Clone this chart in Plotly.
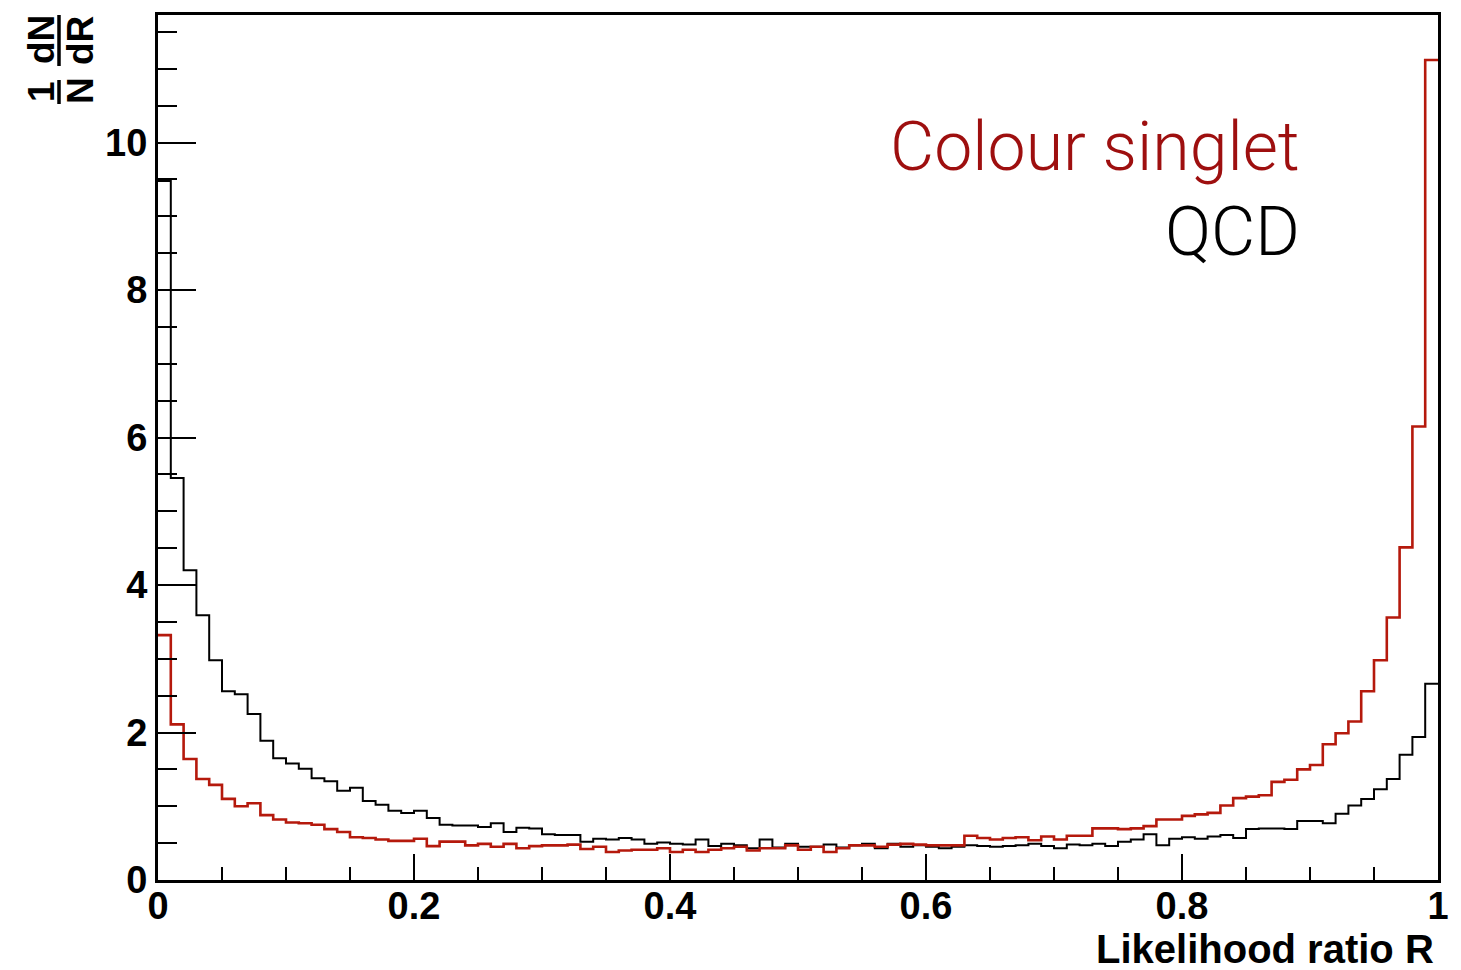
import numpy as np
import plotly.graph_objects as go

# ---------------- data (100 bins on 0..1) ----------------
n_bins = 100
r_min, r_max = 0.0, 1.0

qcd = [9.48, 5.45, 4.20, 3.59, 2.98, 2.56, 2.52, 2.25, 1.89, 1.65,
       1.58, 1.51, 1.38, 1.34, 1.21, 1.25, 1.07, 1.02, 0.94, 0.91,
       0.94, 0.84, 0.75, 0.74, 0.74, 0.72, 0.77, 0.65, 0.71, 0.70,
       0.62, 0.61, 0.61, 0.52, 0.56, 0.55, 0.57, 0.55, 0.49, 0.51,
       0.49, 0.48, 0.55, 0.46, 0.49, 0.47, 0.43, 0.55, 0.44, 0.49,
       0.45, 0.45, 0.48, 0.44, 0.47, 0.49, 0.43, 0.49, 0.45, 0.47,
       0.45, 0.43, 0.45, 0.47, 0.46, 0.45, 0.46, 0.47, 0.49, 0.46,
       0.43, 0.48, 0.47, 0.49, 0.46, 0.52, 0.55, 0.62, 0.47, 0.56,
       0.58, 0.56, 0.59, 0.61, 0.57, 0.69, 0.70, 0.70, 0.69, 0.80,
       0.80, 0.77, 0.90, 1.01, 1.10, 1.23, 1.37, 1.70, 1.94, 2.66]

singlet = [3.32, 2.11, 1.64, 1.37, 1.29, 1.10, 1.00, 1.04, 0.88, 0.82,
           0.78, 0.77, 0.75, 0.69, 0.65, 0.58, 0.57, 0.55, 0.53, 0.53,
           0.56, 0.46, 0.52, 0.52, 0.47, 0.49, 0.45, 0.49, 0.43, 0.46,
           0.47, 0.47, 0.48, 0.42, 0.45, 0.38, 0.40, 0.41, 0.41, 0.43,
           0.38, 0.41, 0.38, 0.41, 0.43, 0.45, 0.40, 0.43, 0.43, 0.47,
           0.41, 0.45, 0.38, 0.43, 0.47, 0.47, 0.45, 0.48, 0.49, 0.48,
           0.47, 0.47, 0.47, 0.60, 0.57, 0.55, 0.57, 0.58, 0.54, 0.59,
           0.55, 0.60, 0.60, 0.70, 0.70, 0.69, 0.70, 0.73, 0.82, 0.82,
           0.87, 0.89, 0.91, 1.01, 1.11, 1.13, 1.15, 1.33, 1.36, 1.50,
           1.56, 1.84, 1.99, 2.15, 2.56, 2.98, 3.56, 4.51, 6.15, 11.12]

x_tick_vals = [0, 0.2, 0.4, 0.6, 0.8, 1]
x_tick_text = ["0", "0.2", "0.4", "0.6", "0.8", "1"]
y_tick_vals = [0, 2, 4, 6, 8, 10]
y_tick_text = ["0", "2", "4", "6", "8", "10"]
y_max = 11.73

edges = np.linspace(r_min, r_max, n_bins + 1)

# ---------------- layout geometry ----------------
W, H = 1461, 970
L, R, T, B = 158, 23, 15, 90
PW, PH = W - L - R, H - T - B


def px_x(px):
    return (px - L) / PW


def px_y(py):
    return (H - B - py) / PH


RED_LINE = "#b5190c"
RED_TEXT = "#9e0f0f"

fig = go.Figure()
fig.add_trace(go.Scatter(
    x=edges, y=list(qcd) + [qcd[-1]], mode="lines", line_shape="hv",
    line=dict(color="black", width=2), showlegend=False, hoverinfo="skip"))
fig.add_trace(go.Scatter(
    x=edges, y=list(singlet) + [singlet[-1]], mode="lines", line_shape="hv",
    line=dict(color=RED_LINE, width=2.6), showlegend=False, hoverinfo="skip"))

tick_font = dict(family="Liberation Sans", size=38, color="black", weight="bold")

fig.update_layout(
    width=W, height=H,
    margin=dict(l=L, r=R, t=T, b=B, pad=0),
    paper_bgcolor="white", plot_bgcolor="white",
    showlegend=False,
    xaxis=dict(
        range=[r_min, r_max], tickvals=x_tick_vals, ticktext=x_tick_text,
        ticks="inside", ticklen=26, tickwidth=2, tickcolor="black",
        minor=dict(ticks="inside", ticklen=13, tickwidth=2, tickcolor="black", dtick=0.05),
        showline=True, linewidth=3, linecolor="black", mirror=True,
        showgrid=False, zeroline=False, tickfont=tick_font, ticklabelstandoff=-10,
    ),
    yaxis=dict(
        range=[0, y_max], tickvals=y_tick_vals, ticktext=y_tick_text,
        ticks="inside", ticklen=38, tickwidth=2, tickcolor="black",
        minor=dict(ticks="inside", ticklen=19, tickwidth=2, tickcolor="black", dtick=0.5),
        showline=True, linewidth=3, linecolor="black", mirror=True,
        showgrid=False, zeroline=False, tickfont=tick_font, ticklabelstandoff=0,
    ),
)

annotations = []
# legend-like labels
annotations.append(dict(
    x=px_x(1302), y=px_y(147), xref="paper", yref="paper",
    text="Colour singlet", showarrow=False, xanchor="right", yanchor="middle",
    font=dict(family="Roboto", size=68, color=RED_TEXT, weight=300)))
annotations.append(dict(
    x=px_x(1302), y=px_y(232), xref="paper", yref="paper",
    text="QCD", showarrow=False, xanchor="right", yanchor="middle",
    font=dict(family="Roboto", size=68, color="black", weight=300)))
# x axis title
annotations.append(dict(
    x=px_x(1436), y=px_y(949), xref="paper", yref="paper",
    text="Likelihood ratio R", showarrow=False, xanchor="right", yanchor="middle",
    font=dict(family="Liberation Sans", size=40, color="black", weight="bold")))
# y axis title: (1/N)(dN/dR), rotated
ytitle_font = dict(family="Liberation Sans", size=37, color="black", weight="bold")
for txt, cx, cy in [("1", 41, 92), ("N", 81, 91), ("dN", 41, 40), ("dR", 81, 41)]:
    annotations.append(dict(
        x=px_x(cx), y=px_y(cy), xref="paper", yref="paper", text=txt,
        showarrow=False, textangle=-90, xanchor="center", yanchor="middle",
        font=ytitle_font))
fig.update_layout(annotations=annotations)

# fraction bars of the y-axis title
for y0, y1 in [(80, 104), (15, 66)]:
    fig.add_shape(type="line", xref="paper", yref="paper",
                  x0=px_x(59), x1=px_x(59), y0=px_y(y0), y1=px_y(y1),
                  line=dict(color="black", width=3.5))

fig.write_html("out.html")
